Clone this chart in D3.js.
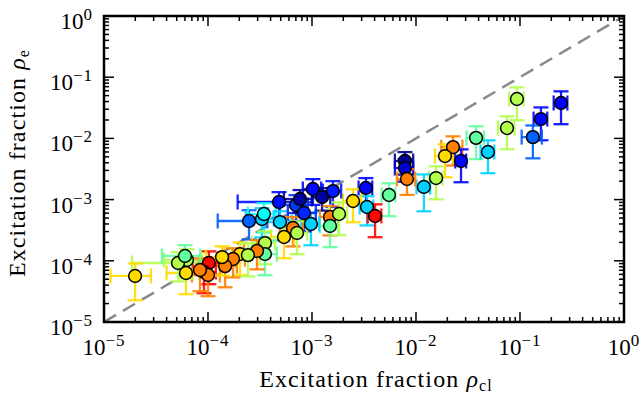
<!DOCTYPE html>
<html><head><meta charset="utf-8">
<script src="https://cdn.jsdelivr.net/npm/d3@7"></script>
<style>body{margin:0;background:#fff}svg{display:block}</style>
</head><body>
<svg id="chart" width="639" height="396"></svg>
<script>
// ---- data ----
const xVals  = [0.0935,0.159,0.248,0.133,0.075,0.0378,0.0492,0.0227,0.0190,0.0271,0.0156,0.0119,0.00783,0.00783,0.00819,0.0055,0.0033,0.00338,0.00404,0.00248,0.00102,0.00159,0.00125,0.00149,0.00149,0.00182,0.000977,0.000482,0.000702,0.000248,0.00033,0.000345,0.000492,0.000837,0.000656,0.000538,0.000718,0.000353,0.000353,0.000296,0.000203,0.000242,0.000174,0.000146,0.000102,0.0000915,0.0001,0.0000628,0.0000614,0.0000515,0.0000199,0.0001365,0.0000837,0.000767,0.0000601];
const yVals  = [0.0440,0.0207,0.0379,0.0105,0.0148,0.0102,0.0060,0.0072,0.00515,0.00427,0.00225,0.00161,0.00427,0.00328,0.00217,0.00119,0.00155,0.000757,0.00054,0.000949,0.00149,0.00138,0.0011,0.00052,0.000371,0.000582,0.000399,0.000914,0.000816,0.000447,0.000482,0.000582,0.00043,0.000604,0.000344,0.000245,0.000285,0.000195,0.000129,0.000145,0.000129,0.000124,0.000107,0.000082,0.000092,0.0000656,0.0000586,0.000103,0.0000632,0.000092,0.0000565,0.000115,0.0000708,0.001023,0.00012];
const xErrRel = [0.16,0.15,0.15,0.22,0.18,0.19,0.15,0.23,0.2,0.12,0.15,0.15,0.2,0.2,0.2,0.15,0.15,0.15,0.15,0.2,0.2,0.2,0.2,0.2,0.2,0.2,0.2,0.6,0.3,0.5,0.3,0.3,0.3,0.3,0.25,0.25,0.25,0.25,0.3,0.25,0.3,0.3,0.3,0.3,0.3,0.3,0.3,0.4,0.35,0.64,0.42,0.3,0.3,0.3,0.4];
const yErrRel = [0.55,0.55,0.55,0.55,0.55,0.55,0.55,0.5,0.55,0.55,0.55,0.6,0.4,0.4,0.45,0.55,0.45,0.5,0.55,0.55,0.45,0.45,0.4,0.5,0.55,0.55,0.55,0.45,0.45,0.5,0.5,0.5,0.5,0.5,0.5,0.55,0.55,0.55,0.55,0.5,0.55,0.55,0.5,0.55,0.55,0.55,0.55,0.5,0.55,0.5,0.6,0.5,0.55,0.4,0.5];
const colorVals = [0.55,0.13,0.12,0.22,0.55,0.47,0.33,0.75,0.66,0.13,0.55,0.33,0.02,0.08,0.75,0.47,0.13,0.33,0.87,0.66,0.13,0.15,0.03,0.75,0.47,0.55,0.33,0.14,0.18,0.22,0.33,0.38,0.33,0.16,0.75,0.66,0.55,0.55,0.47,0.75,0.66,0.55,0.75,0.75,0.87,0.87,0.75,0.55,0.66,0.55,0.66,0.66,0.75,0.03,0.47];
const xTicks = [1e-5,1e-4,1e-3,1e-2,1e-1,1];
const yTicks = [1e-5,1e-4,1e-3,1e-2,1e-1,1];
const tickExps = ["−5","−4","−3","−2","−1","0"];
const xLabel = "Excitation fraction ";
const yLabel = "Excitation fraction ";

// ---- layout ----
const W = 639, H = 396;
const m = {left:104, right:15, top:16, bottom:74};
const iw = W - m.left - m.right, ih = H - m.top - m.bottom;
const svg = d3.select("#chart");
const x = d3.scaleLog().domain([1e-5,1]).range([m.left, m.left+iw]);
const y = d3.scaleLog().domain([1e-5,1]).range([m.top+ih, m.top]);
const font = "'Liberation Serif', 'DejaVu Serif', serif";

function jet(v){
  const c = t => Math.max(0, Math.min(1, t));
  const r = c(1.5 - Math.abs(4*v-3)), g = c(1.5 - Math.abs(4*v-2)), b = c(1.5 - Math.abs(4*v-1));
  return d3.rgb(r*255, g*255, b*255).formatHex();
}

const pts = xVals.map((v,i)=>({x:v, y:yVals[i], sx:xErrRel[i], sy:yErrRel[i], c:jet(colorVals[i])}));

svg.append("defs").append("clipPath").attr("id","clip")
  .append("rect").attr("x",m.left).attr("y",m.top).attr("width",iw).attr("height",ih);
const plot = svg.append("g").attr("clip-path","url(#clip)");

// diagonal
plot.append("line")
  .attr("x1",x(1e-5)).attr("y1",y(1e-5)).attr("x2",x(1)).attr("y2",y(1))
  .attr("stroke","#8a8a8a").attr("stroke-width",2.5).attr("stroke-dasharray","14,8");

// error bars
const cap = 7.5;
const eb = plot.append("g").attr("stroke-width",2.3).attr("fill","none").attr("stroke-opacity",0.9);
pts.forEach(p=>{
  const g = eb.append("g").attr("stroke",p.c);
  const y0 = y(p.y*(1-p.sy)), y1 = y(p.y*(1+p.sy));
  const x0 = x(p.x*(1-p.sx)), x1 = x(p.x*(1+p.sx));
  const cx = x(p.x), cy = y(p.y);
  g.append("line").attr("x1",cx).attr("x2",cx).attr("y1",y0).attr("y2",y1);
  g.append("line").attr("x1",cx-cap).attr("x2",cx+cap).attr("y1",y0).attr("y2",y0);
  g.append("line").attr("x1",cx-cap).attr("x2",cx+cap).attr("y1",y1).attr("y2",y1);
  g.append("line").attr("x1",x0).attr("x2",x1).attr("y1",cy).attr("y2",cy);
  g.append("line").attr("x1",x0).attr("x2",x0).attr("y1",cy-cap).attr("y2",cy+cap);
  g.append("line").attr("x1",x1).attr("x2",x1).attr("y1",cy-cap).attr("y2",cy+cap);
});

// markers
plot.append("g").selectAll("circle").data(pts).join("circle")
  .attr("cx",d=>x(d.x)).attr("cy",d=>y(d.y)).attr("r",6.4)
  .attr("fill",d=>d.c).attr("stroke","#000").attr("stroke-width",1.5);

// ticks (inward, all four sides)
const minor = [];
for (let k=-5;k<0;k++) for (let j=2;j<=9;j++) minor.push(j*Math.pow(10,k));
const tg = svg.append("g").attr("stroke","#000").attr("stroke-width",1.5);
const L = 10, l = 5;
xTicks.forEach(t=>{
  tg.append("line").attr("x1",x(t)).attr("x2",x(t)).attr("y1",m.top+ih).attr("y2",m.top+ih-L);
  tg.append("line").attr("x1",x(t)).attr("x2",x(t)).attr("y1",m.top).attr("y2",m.top+L);
});
minor.forEach(t=>{
  tg.append("line").attr("x1",x(t)).attr("x2",x(t)).attr("y1",m.top+ih).attr("y2",m.top+ih-l);
  tg.append("line").attr("x1",x(t)).attr("x2",x(t)).attr("y1",m.top).attr("y2",m.top+l);
});
yTicks.forEach(t=>{
  tg.append("line").attr("y1",y(t)).attr("y2",y(t)).attr("x1",m.left).attr("x2",m.left+L);
  tg.append("line").attr("y1",y(t)).attr("y2",y(t)).attr("x1",m.left+iw).attr("x2",m.left+iw-L);
});
minor.forEach(t=>{
  tg.append("line").attr("y1",y(t)).attr("y2",y(t)).attr("x1",m.left).attr("x2",m.left+l);
  tg.append("line").attr("y1",y(t)).attr("y2",y(t)).attr("x1",m.left+iw).attr("x2",m.left+iw-l);
});

// frame
svg.append("rect").attr("x",m.left).attr("y",m.top).attr("width",iw).attr("height",ih)
  .attr("fill","none").attr("stroke","#000").attr("stroke-width",2.5);

// tick labels
function powLabel(sel, exp){
  sel.append("tspan").text("10");
  sel.append("tspan").attr("font-size",17).attr("dy",-9).attr("letter-spacing",1).text(exp);
}
xTicks.forEach((t,i)=>{
  const tx = svg.append("text").attr("x",x(t)).attr("y",355).attr("text-anchor","middle")
    .attr("font-family",font).attr("font-size",23).attr("fill","#000");
  powLabel(tx, tickExps[i]);
});
yTicks.forEach((t,i)=>{
  const tx = svg.append("text").attr("x",93).attr("y",y(t)+13).attr("text-anchor","end")
    .attr("font-family",font).attr("font-size",23).attr("fill","#000");
  powLabel(tx, tickExps[i]);
});

// axis labels
const xl = svg.append("text").attr("x",376).attr("y",387).attr("text-anchor","middle")
  .attr("font-family",font).attr("font-size",24).attr("letter-spacing",1.1).attr("fill","#000");
xl.append("tspan").text(xLabel);
xl.append("tspan").attr("font-style","italic").text("ρ");
xl.append("tspan").attr("font-size",16).attr("dy",4).text("cl");

const yl = svg.append("text").attr("transform","translate(25,163) rotate(-90)").attr("text-anchor","middle")
  .attr("font-family",font).attr("font-size",24).attr("letter-spacing",1.1).attr("fill","#000");
yl.append("tspan").text(yLabel);
yl.append("tspan").attr("font-style","italic").text("ρ");
yl.append("tspan").attr("font-size",16).attr("dy",4).text("e");
</script>
</body></html>
